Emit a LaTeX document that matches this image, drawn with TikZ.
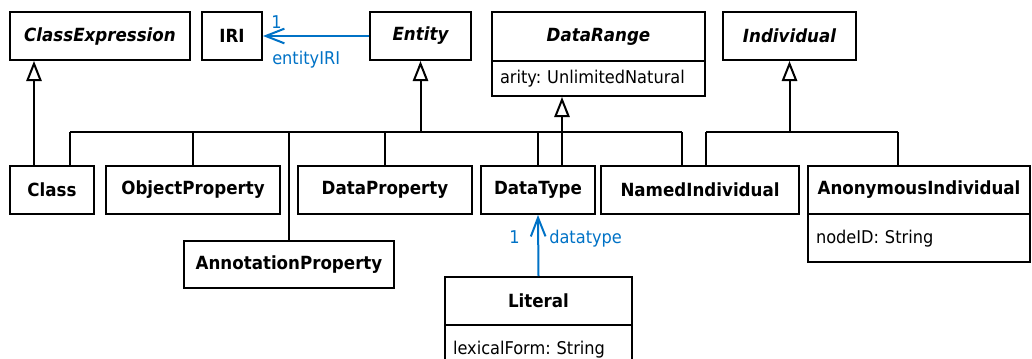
\documentclass[tikz,border=0pt]{standalone}
\usepackage{fontspec}
\setmainfont{DejaVu Sans}[FakeStretch=0.92]
\usetikzlibrary{arrows.meta}
\definecolor{assocblue}{RGB}{0,114,198}
\frenchspacing

\begin{document}
\begin{tikzpicture}[x=0.75pt, y=-0.75pt,
  every node/.style={font=\fontsize{13.2pt}{15pt}\selectfont},
  sz/.style 2 args={minimum width=#1*0.75pt, minimum height=#2*0.75pt},
  cls/.style={draw, line width=1.5pt, inner sep=0pt,
    font=\fontsize{13.6pt}{15pt}\selectfont\bfseries},
  abstractcls/.style={cls,
    font=\fontsize{13.6pt}{15pt}\selectfont\bfseries\itshape},
  attr/.style={draw, line width=1.5pt, inner ysep=0pt, inner xsep=8*0.75pt,
    align=left, text depth=0.25em},
  lbl/.style={text=assocblue, inner sep=0pt},
  gen/.style={line width=1.5pt,
    -{Triangle[open, length=15pt, width=11.5pt, line width=1.5pt]}},
  branch/.style={line width=1.5pt},
  assoc/.style={draw=assocblue, line width=1.5pt,
    -{Straight Barb[length=14pt, width=11pt, line width=1.5pt]}}]

\useasboundingbox (0,0) rectangle (1032,358);
\clip (0,0) rectangle (1032,358);

% top row
\node[abstractcls, sz={180}{48}] (ce)  at (100,36)   {ClassExpression};
\node[cls,         sz={60}{48}]  (iri) at (232,36)   {IRI};
\node[abstractcls, sz={101}{48}] (ent) at (420.5,36) {Entity};
\node[abstractcls, sz={213}{49}] (dr)  at (598.5,36.5) {DataRange};
\node[attr, sz={213}{35}, text width=197*0.75pt] (dratt) at (598.5,78.5)
  {arity: UnlimitedNatural};
\node[abstractcls, sz={133}{48}] (ind) at (789.5,36) {Individual};

% second row
\node[cls, sz={84}{48}]  (cls) at (52,190)  {Class};
\node[cls, sz={174}{48}] (op)  at (193,190) {ObjectProperty};
\node[cls, sz={174}{48}] (dp)  at (385,190) {DataProperty};
\node[cls, sz={114}{48}] (dt)  at (538,190) {DataType};
\node[cls, sz={198}{48}] (ni)  at (700,190) {NamedIndividual};
\node[cls, sz={222}{48}] (ai)  at (919,190) {AnonymousIndividual};
\node[attr, sz={222}{48}, text width=206*0.75pt] (aiatt) at (919,238)
  {nodeID: String};

% lower boxes
\node[cls, sz={210}{47}] (ap)  at (289,264.5) {AnnotationProperty};
\node[cls, sz={187}{48}] (lit) at (538.5,301) {Literal};
\node[attr, sz={187}{48}, text width=171*0.75pt] (litatt) at (538.5,349)
  {lexicalForm: String};

% generalisation of Class
\draw[gen] (cls.north -| 34,0) -- (ce.south -| 34,0);

% generalisations of Entity
\coordinate (ebus)  at (ent.south |- 0,132);
\coordinate (ebusL) at (70,132);
\coordinate (ebusR) at (682,132);
\draw[gen] (ebus) -- (ent.south);
\draw[branch] (ebusL) -- (ebusR);
\draw[branch] (ebusL) -- (cls.north -| ebusL);
\draw[branch] (op.north |- ebus) -- (op.north);
\draw[branch] (ap.north |- ebus) -- (ap.north);
\draw[branch] (dp.north |- ebus) -- (dp.north);
\draw[branch] (dt.north |- ebus) -- (dt.north);
\draw[branch] (ebusR) -- (ni.north -| ebusR);

% generalisation of DataType
\draw[gen] (dt.north -| 562,0) -- (dratt.south -| 562,0);

% generalisations of Individual
\coordinate (ibus)  at (ind.south |- 0,132);
\coordinate (ibusL) at (706,132);
\coordinate (ibusR) at (898,132);
\draw[gen] (ibus) -- (ind.south);
\draw[branch] (ibusL) -- (ibusR);
\draw[branch] (ibusL) -- (ni.north -| ibusL);
\draw[branch] (ibusR) -- (ai.north -| ibusR);

% associations
\draw[assoc] (ent.west) -- (iri.east);
\node[lbl, anchor=base west] (m1)   at (271,28) {1};
\node[lbl, anchor=base west] (role1) at (272,64) {entityIRI};

\draw[assoc] (lit.north) -- (dt.south);
\node[lbl, anchor=base east] (m2)   at (520,243) {1};
\node[lbl, anchor=base west] (role2) at (549,243) {datatype};

\end{tikzpicture}
\end{document}
